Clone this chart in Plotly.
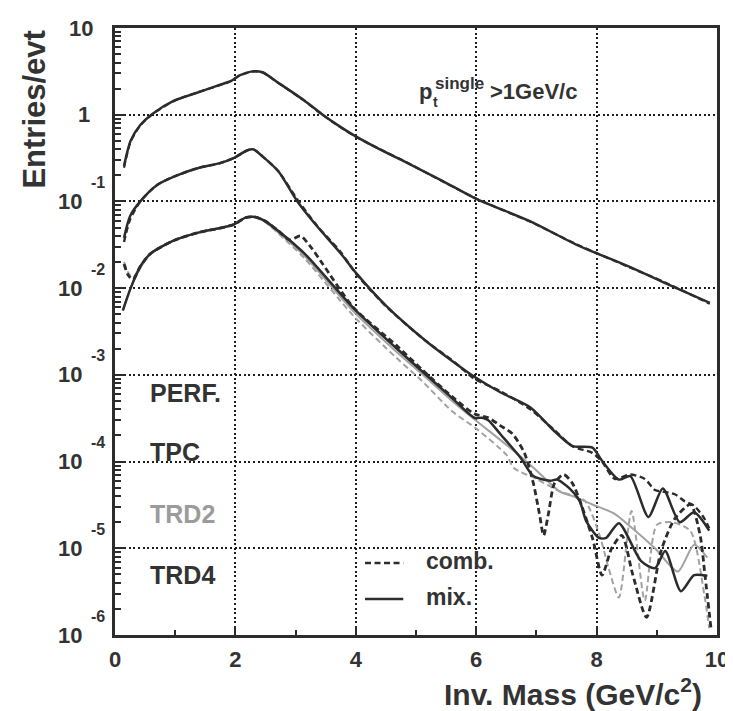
import plotly.graph_objects as go

# ---------------- data ----------------
x_perf = [0.15, 0.26, 0.42, 0.62, 0.98, 1.35, 1.68, 1.93, 2.06, 2.28, 2.45, 2.71, 3.15, 3.45,
          3.7, 4.0, 4.4, 4.78, 5.43, 6.0, 6.9, 7.67, 8.53, 9.13, 9.88]
y_perf_mix = [0.257, 0.50, 0.76, 1.02, 1.45, 1.78, 2.14, 2.45, 2.82, 3.16, 3.09, 2.34, 1.45, 1.0,
              0.759, 0.562, 0.398, 0.295, 0.174, 0.107, 0.0589, 0.0316, 0.0178, 0.0115, 0.00676]
y_perf_comb = [0.245, 0.49, 0.75, 1.01, 1.44, 1.79, 2.12, 2.44, 2.80, 3.14, 3.08, 2.33, 1.44, 0.99,
               0.752, 0.556, 0.401, 0.298, 0.172, 0.108, 0.0582, 0.0320, 0.0176, 0.0117, 0.00660]

x_tpc_mix = [0.15, 0.25, 0.42, 0.7, 1.03, 1.4, 1.73, 1.97, 2.2, 2.3, 2.45, 2.71, 3.03, 3.36, 3.75,
             4.01, 4.5, 5.15, 5.64, 5.97, 6.4, 6.9, 7.3, 7.6, 7.93, 8.09, 8.37, 8.56, 8.86, 9.1,
             9.38, 9.62, 9.87]
y_tpc_mix = [0.038, 0.0676, 0.1, 0.155, 0.2, 0.245, 0.275, 0.316, 0.389, 0.398, 0.331, 0.224, 0.1,
             0.0513, 0.0251, 0.0148, 0.0063, 0.00251, 0.00138, 9.5e-4, 6.3e-4, 4.2e-4, 2.24e-4,
             1.51e-4, 1.45e-4, 1.02e-4, 6.2e-5, 6.8e-5, 2.3e-5, 4.9e-5, 2.0e-5, 2.6e-5, 1.6e-5]
x_tpc_comb = [0.15, 0.25, 0.42, 0.7, 1.03, 1.4, 1.73, 1.97, 2.2, 2.3, 2.45, 2.71, 3.03, 3.36, 3.75,
              4.01, 4.5, 5.15, 5.64, 5.97, 6.4, 6.9, 7.3, 7.6, 7.93, 8.09, 8.3, 8.56, 8.8, 8.97,
              9.1, 9.3, 9.46, 9.62, 9.79, 9.87]
y_tpc_comb = [0.034, 0.062, 0.1, 0.155, 0.2, 0.245, 0.275, 0.316, 0.389, 0.398, 0.331, 0.224, 0.105,
              0.052, 0.026, 0.0145, 0.0062, 0.0025, 0.0014, 9.0e-4, 6.5e-4, 4.0e-4, 2.3e-4,
              1.5e-4, 1.26e-4, 1.0e-4, 6.3e-5, 7.1e-5, 6.3e-5, 4.7e-5, 4.5e-5, 4.2e-5, 3.5e-5,
              3.1e-5, 2.2e-5, 1.7e-5]

x_trd4_mix = [0.13, 0.26, 0.42, 0.59, 0.98, 1.40, 1.73, 1.97, 2.17, 2.33, 2.5, 2.71, 3.15, 3.96,
              4.67, 5.1, 5.6, 5.97, 6.1, 6.2, 6.41, 6.74, 6.95, 7.23, 7.34, 7.55, 7.72, 7.83, 8.04,
              8.16, 8.37, 8.74, 8.97, 9.14, 9.4, 9.62, 9.84]
y_trd4_mix = [5.5e-3, 1.0e-2, 1.78e-2, 2.5e-2, 3.55e-2, 4.4e-2, 4.9e-2, 5.4e-2, 6.5e-2, 6.6e-2,
              5.9e-2, 4.6e-2, 2.5e-2, 5.9e-3, 2.04e-3, 1.1e-3, 5.4e-4, 3.2e-4, 3.2e-4, 3.0e-4,
              2.04e-4, 1.1e-4, 6.8e-5, 6.0e-5, 6.2e-5, 4.9e-5, 3.5e-5, 2.04e-5, 1.32e-5, 1.32e-5,
              1.95e-5, 7.1e-6, 5.9e-6, 9.3e-6, 3.2e-6, 4.9e-6, 4.8e-6]
x_trd4_comb = [0.15, 0.22, 0.3, 0.42, 0.59, 0.98, 1.4, 1.73, 1.97, 2.17, 2.33, 2.5, 2.71, 2.9,
               3.08, 3.25, 3.45, 3.96, 4.67, 5.1, 5.6, 5.97, 6.2, 6.4, 6.6, 6.8, 6.95, 7.05, 7.12,
               7.2, 7.3, 7.45, 7.6, 7.93, 8.09, 8.25, 8.42, 8.6, 8.83, 9.07, 9.3, 9.56, 9.72, 9.8,
               9.9]
y_trd4_comb = [1.9e-2, 1.41e-2, 1.26e-2, 1.78e-2, 2.5e-2, 3.55e-2, 4.4e-2, 4.9e-2, 5.4e-2, 6.5e-2,
               6.6e-2, 5.9e-2, 4.6e-2, 3.6e-2, 4.0e-2, 3.0e-2, 1.9e-2, 6.0e-3, 2.2e-3, 1.15e-3,
               5.6e-4, 3.55e-4, 3.2e-4, 2.6e-4, 2.1e-4, 1.26e-4, 5.6e-5, 2.5e-5, 1.41e-5, 2.5e-5,
               5.6e-5, 7.1e-5, 5.6e-5, 1.32e-5, 4.9e-6, 1.0e-5, 1.41e-5, 5.0e-6, 1.6e-6, 9.3e-6,
               2.2e-5, 3.2e-5, 1.41e-5, 4.9e-6, 1.2e-6]

x_trd2_mix = [0.13, 0.26, 0.42, 0.59, 0.98, 1.40, 1.73, 1.97, 2.17, 2.33, 2.5, 2.71, 3.15, 3.96,
              4.67, 5.1, 5.6, 6.0, 6.4, 6.8, 7.0, 7.39, 7.6, 7.93, 8.3, 8.53, 8.97, 9.35, 9.62,
              9.84]
y_trd2_mix = [5.6e-3, 1.0e-2, 1.7e-2, 2.5e-2, 3.55e-2, 4.4e-2, 4.9e-2, 5.4e-2, 6.5e-2, 6.6e-2,
              5.75e-2, 4.4e-2, 2.34e-2, 5.4e-3, 1.86e-3, 1.02e-3, 5.0e-4, 2.95e-4, 1.78e-4, 1.05e-4,
              7.9e-5, 4.5e-5, 4.0e-5, 3.2e-5, 2.5e-5, 1.86e-5, 1.0e-5, 5.4e-6, 1.1e-5, 7.8e-6]
x_trd2_comb = [0.15, 0.22, 0.3, 0.42, 0.59, 0.98, 1.4, 1.73, 1.97, 2.17, 2.33, 2.5, 2.71, 3.15,
               3.96, 4.67, 5.1, 5.6, 6.0, 6.5, 6.62, 7.0, 7.4, 7.8, 8.05, 8.2, 8.37, 8.58, 8.8, 9.0,
               9.25, 9.56, 9.79, 9.87]
y_trd2_comb = [2.0e-2, 1.51e-2, 1.32e-2, 1.78e-2, 2.5e-2, 3.55e-2, 4.4e-2, 4.9e-2, 5.4e-2, 6.5e-2,
               6.6e-2, 5.75e-2, 4.3e-2, 2.2e-2, 4.8e-3, 1.58e-3, 8.5e-4, 3.8e-4, 2.4e-4, 1.2e-4,
               8.5e-5, 6.3e-5, 4.5e-5, 3.55e-5, 1.41e-5, 5.9e-6, 2.7e-6, 2.7e-5, 2.5e-6, 1.86e-5,
               2.0e-5, 1.58e-5, 2.9e-6, 1.2e-6]

x_tick_vals = [0, 2, 4, 6, 8, 10]
x_tick_labels = ["0", "2", "4", "6", "8", "10"]
x_minor_vals = [1, 3, 5, 7, 9]
y_decades = [1, 0, -1, -2, -3, -4, -5, -6]
y_base_labels = ["10", "1", "10", "10", "10", "10", "10", "10"]
y_exp_labels = ["", "", "-1", "-2", "-3", "-4", "-5", "-6"]

series_names = ["PERF.", "TPC", "TRD2", "TRD4"]
legend_names = ["comb.", "mix."]

# ---------------- style ----------------
DARK = "#2c2c2c"
GREY = "#a2a2a2"
TXT = "#333333"
FONT = "Liberation Sans, Arial, Helvetica, sans-serif"
DASH = "6px,3.5px"

W, H = 733, 711
ML, MR, MT, MB = 107, 12, 20, 84
PW, PH = W - ML - MR, H - MT - MB


def px(xp):
    return (xp - ML) / PW


def py(yp):
    return 1 - (yp - MT) / PH


fig = go.Figure()


def add(x, y, color, width, dash=None):
    fig.add_trace(go.Scatter(
        x=x, y=y, mode="lines",
        line=dict(color=color, width=width, dash=dash, shape="spline", smoothing=0.7),
        showlegend=False, hoverinfo="skip"))


add(x_trd2_comb, y_trd2_comb, GREY, 2.0, DASH)
add(x_trd2_mix, y_trd2_mix, GREY, 2.0)
add(x_trd4_comb, y_trd4_comb, DARK, 2.8, DASH)
add(x_trd4_mix, y_trd4_mix, DARK, 2.5)
add(x_tpc_comb, y_tpc_comb, DARK, 2.4, DASH)
add(x_tpc_mix, y_tpc_mix, DARK, 2.5)
add(x_perf, y_perf_comb, DARK, 2.2, DASH)
add(x_perf, y_perf_mix, DARK, 2.5)

fig.update_layout(
    width=W, height=H,
    margin=dict(l=ML, r=MR, t=MT, b=MB),
    plot_bgcolor="white", paper_bgcolor="white",
    showlegend=False,
    font=dict(family=FONT, color=TXT),
)

fig.update_xaxes(
    range=[0, 10], showline=True, linecolor=DARK, linewidth=2.5, mirror=True,
    ticks="inside", ticklen=9, tickwidth=2, tickcolor=DARK,
    tickmode="array", tickvals=x_tick_vals, ticktext=x_tick_labels,
    tickfont=dict(size=22, family=FONT, color=TXT, weight="bold"),
    ticklabelstandoff=3,
    showgrid=True, gridcolor="#1e1e1e", gridwidth=2, griddash="2px,2.6px",
    minor=dict(tickmode="array", tickvals=x_minor_vals, ticks="inside", ticklen=5,
               tickwidth=2, tickcolor=DARK, showgrid=False),
    zeroline=False,
)

y_minor = [m * 10.0 ** e for e in range(-6, 1) for m in range(2, 10)]
fig.update_yaxes(
    type="log", range=[-6, 1], showline=True, linecolor=DARK, linewidth=2.5, mirror=True,
    ticks="inside", ticklen=10, tickwidth=2, tickcolor=DARK,
    tickmode="array", tickvals=[10.0 ** e for e in y_decades], showticklabels=False,
    showgrid=True, gridcolor="#1e1e1e", gridwidth=2, griddash="2px,2.6px",
    minor=dict(tickmode="array", tickvals=y_minor, ticks="inside", ticklen=6,
               tickwidth=1.5, tickcolor=DARK, showgrid=False),
    zeroline=False,
)

ann = []
# y tick labels: "10" with raised exponent
for e, base, ex in zip(y_decades, y_base_labels, y_exp_labels):
    right = 87 if e == 1 else (84 if e == 0 else 75)
    ann.append(dict(x=px(right), y=e, xref="paper", yref="y", text=base, showarrow=False,
                    xanchor="right", yanchor="middle",
                    font=dict(size=22, family=FONT, color=TXT, weight="bold")))
    if ex:
        ann.append(dict(x=px(80), y=e, xref="paper", yref="y", text=ex, showarrow=False,
                        xanchor="left", yanchor="middle", yshift=19,
                        font=dict(size=16, family=FONT, color=TXT, weight="bold")))

# axis titles
ann.append(dict(x=px(25), y=py(101), xref="paper", yref="paper", text="Entries/evt",
                textangle=-90, showarrow=False, xanchor="center", yanchor="middle",
                font=dict(size=31, family=FONT, color=TXT, weight="bold")))
ann.append(dict(x=px(574), y=py(684), xref="paper", yref="paper",
                text="Inv. Mass (GeV/c<sup>2</sup>)", showarrow=False,
                xanchor="center", yanchor="middle",
                font=dict(size=30, family=FONT, color=TXT, weight="bold")))

# cut label
ann.append(dict(x=px(415), y=py(84), xref="paper", yref="paper", text="p", showarrow=False,
                xanchor="left", yanchor="middle",
                font=dict(size=22, family=FONT, color=TXT, weight="bold")))
ann.append(dict(x=px(429), y=py(94), xref="paper", yref="paper", text="t", showarrow=False,
                xanchor="left", yanchor="middle",
                font=dict(size=14, family=FONT, color=TXT, weight="bold")))
ann.append(dict(x=px(431), y=py(75), xref="paper", yref="paper", text="single", showarrow=False,
                xanchor="left", yanchor="middle",
                font=dict(size=17, family=FONT, color=TXT, weight="bold")))
ann.append(dict(x=px(487), y=py(83), xref="paper", yref="paper", text="&gt;1GeV/c",
                showarrow=False, xanchor="left", yanchor="middle",
                font=dict(size=22, family=FONT, color=TXT, weight="bold")))

# series labels
label_y = [385, 444, 506, 567]
label_col = [TXT, TXT, "#9b9b9b", TXT]
for name, yy, col in zip(series_names, label_y, label_col):
    ann.append(dict(x=px(141), y=py(yy), xref="paper", yref="paper", text=name,
                    showarrow=False, xanchor="left", yanchor="middle",
                    font=dict(size=25, family=FONT, color=col, weight="bold")))

# legend
leg_y = [553, 589]
for name, yy in zip(legend_names, leg_y):
    ann.append(dict(x=px(422), y=py(yy), xref="paper", yref="paper", text=name,
                    showarrow=False, xanchor="left", yanchor="middle",
                    font=dict(size=23, family=FONT, color=TXT, weight="bold")))

fig.update_layout(annotations=ann)

fig.add_shape(type="line", xref="paper", yref="paper", x0=px(362), x1=px(401),
              y0=py(555), y1=py(555), line=dict(color=DARK, width=2.4, dash=DASH))
fig.add_shape(type="line", xref="paper", yref="paper", x0=px(362), x1=px(401),
              y0=py(591), y1=py(591), line=dict(color=DARK, width=2.5))

fig.write_html("out.html")
